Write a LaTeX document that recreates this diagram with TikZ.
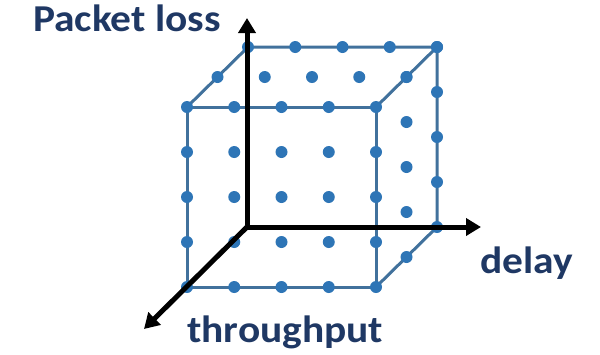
\documentclass[tikz,border=0pt]{standalone}
\usepackage{fontspec}
\setmainfont{Carlito}
\usetikzlibrary{arrows.meta}
\definecolor{labelnavy}{HTML}{1F3864}
\definecolor{edgeblue}{HTML}{41719C}
\definecolor{dotblue}{HTML}{2E75B6}
\tikzset{
  cubeedge/.style={draw=edgeblue, line width=3pt, line join=round},
  gridpt/.style={circle, fill=dotblue, inner sep=0pt, minimum width=11pt, minimum height=12pt},
  axisline/.style={draw=black, line width=5pt, -{Triangle[length=15pt,width=17pt]}},
  axislabel/.style={text=labelnavy, font=\fontsize{38}{40}\selectfont\bfseries, inner sep=0pt, anchor=base west}
}
\newcommand{\widetext}[1]{\scalebox{1.09}[1]{#1}}
\begin{document}
\begin{tikzpicture}[x=1pt,y=-1pt]
\useasboundingbox (0,0) rectangle (600,354);
% cube corners
\coordinate (A) at (187,107);
\coordinate (B) at (376,107);
\coordinate (C) at (376,287);
\coordinate (D) at (187,287);
\coordinate (E) at (248,47);
\coordinate (F) at (437,47);
\coordinate (G) at (437,227);
\coordinate (O) at (247,227);
% edges
\draw[cubeedge] (A) -- (B) -- (C) -- (D) -- cycle;
\draw[cubeedge] (A) -- (E) -- (F) -- (B);
\draw[cubeedge] (F) -- (G) -- (C);
% front face dots
\foreach \i in {0,...,4}{
  \foreach \j in {0,...,4}{
    \node[gridpt] (f\i\j) at ({187+47.25*\i},{107+45*\j}) {};
  }
}
% top face dots
\foreach \k in {1,2}{
  \foreach \i in {0,...,4}{
    \node[gridpt] (t\i\k) at ({187+47.25*\i+30.5*\k},{107-30*\k}) {};
  }
}
% right face dots
\foreach \k in {1,2}{
  \foreach \j in {0,...,4}{
    \node[gridpt] (r\j\k) at ({376+30.5*\k},{107+45*\j-30*\k}) {};
  }
}
% axes
\coordinate (up) at (247,18);
\coordinate (right) at (481,227);
\coordinate (down) at (144,329);
\draw[axisline] (O) -- (up);
\draw[axisline] (O) -- (right);
\draw[axisline] (O) -- (down);
% labels
\node[axislabel] (lloss) at (33,31) {\widetext{Packet loss}};
\node[axislabel] (ldelay) at (480,273) {\widetext{delay}};
\node[axislabel] (lthru) at (187,342) {\widetext{throughput}};
\end{tikzpicture}
\end{document}
